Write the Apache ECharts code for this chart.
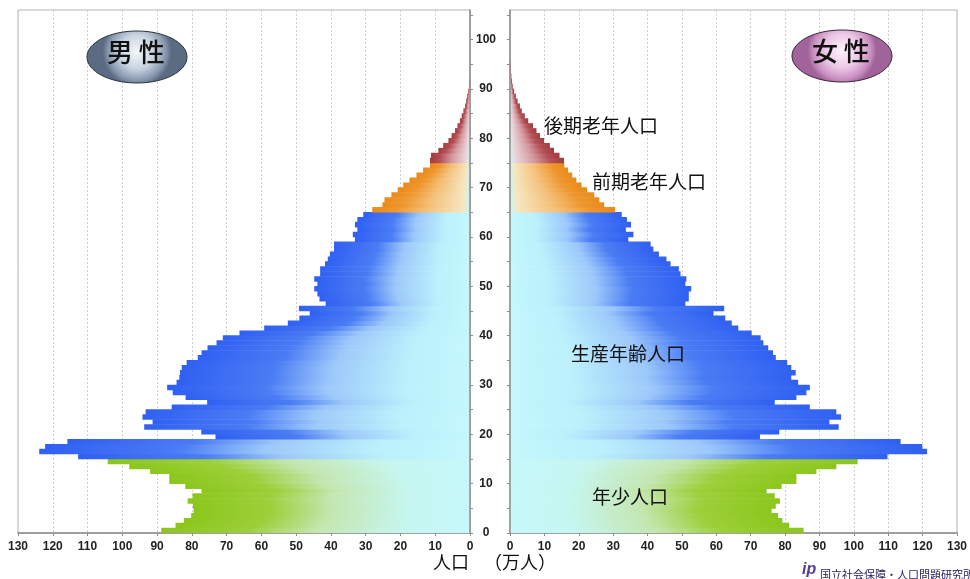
<!DOCTYPE html>
<html>
<head>
<meta charset="utf-8">
<script src="https://cdn.jsdelivr.net/npm/echarts@6/dist/echarts.min.js"></script>
<style>
  html, body { margin: 0; padding: 0; background: #ffffff; }
  #chart { width: 970px; height: 579px; }
</style>
</head>
<body>
<div id="chart"></div>
<script>
// Ages 0..105 (category axis)
const ages = [];
for (let a = 0; a <= 105; a++) ages.push(String(a));

// Population by single year of age, 10,000 persons (万人)
const male = [
  88.8, 84.7, 82.3, 80.2, 79.5, 79.7, 81.2, 79.8, 77.2, 81.9,
  86.5, 86.5, 92.0, 98.0, 104.2, 112.7, 123.9, 122.2, 115.8, 73.2,
  77.3, 93.7, 91.3, 94.2, 93.3, 85.8, 75.6, 81.8, 85.5, 87.1,
  84.4, 83.6, 83.4, 82.9, 81.5, 78.3, 77.2, 75.5, 72.9, 71.1,
  66.3, 59.2, 52.4, 49.1, 46.1, 49.2, 41.5, 43.3, 43.9, 44.8,
  43.9, 44.8, 43.1, 43.1, 41.7, 40.9, 40.3, 39.1, 39.1, 33.1,
  33.7, 32.4, 33.1, 32.4, 30.7, 28.1, 25.2, 24.6, 22.6, 20.8,
  19.2, 17.4, 15.4, 13.5, 11.5, 11.5, 11.2, 9.1, 7.7, 6.2,
  5.3, 4.3, 3.6, 2.9, 2.4, 1.9, 1.4, 1.1, 0.8, 0.5,
  0.3, 0.15, 0, 0, 0, 0, 0, 0, 0, 0,
  0, 0, 0, 0, 0, 0
];
const female = [
  85.4, 81.2, 79.2, 78.0, 76.1, 77.3, 78.5, 77.0, 74.6, 79.0,
  83.3, 83.3, 89.1, 94.9, 101.1, 109.8, 121.3, 119.9, 113.6, 72.7,
  78.3, 95.6, 92.9, 96.3, 94.9, 87.2, 77.0, 83.3, 86.2, 87.2,
  83.8, 81.8, 83.1, 81.8, 80.6, 77.3, 76.5, 75.1, 73.7, 72.9,
  70.3, 66.4, 64.5, 62.6, 59.2, 62.3, 51.0, 52.0, 52.0, 52.7,
  51.0, 51.3, 49.6, 49.1, 46.7, 45.5, 43.3, 41.7, 40.9, 34.4,
  35.9, 33.7, 35.2, 34.0, 32.5, 30.6, 27.4, 26.0, 24.5, 22.4,
  20.8, 19.3, 18.1, 16.9, 15.8, 15.7, 14.4, 12.8, 11.6, 9.9,
  8.7, 7.7, 6.7, 5.3, 4.3, 3.4, 2.9, 2.2, 1.7, 1.2,
  0.8, 0.6, 0.4, 0.3, 0.2, 0.1, 0, 0, 0, 0,
  0, 0, 0, 0, 0, 0
];

// Age groups [name, firstAge, lastAge]
const groups = [
  ['年少人口', 0, 14],
  ['生産年齢人口', 15, 64],
  ['前期老年人口', 65, 74],
  ['後期老年人口', 75, 105]
];
const ageTickValues = [0,5,10,15,20,25,30,35,40,45,50,55,60,65,70,75,80,85,90,95,100,105];
const ageLabelValues = [0,10,20,30,40,50,60,70,80,90,100];

// Gradient stops from the axis (0) to the bar's outer end (1)
const palette = {
  '年少人口':   [[0,'#c6f8fc'],[0.22,'#c6f6f0'],[0.5,'#c4e6b0'],[0.72,'#9cd03a'],[1,'#8cc61c']],
  '生産年齢人口': [[0,'#c4f8fc'],[0.22,'#bcf0fc'],[0.48,'#9cc8fa'],[0.68,'#4a7cf4'],[1,'#3060f2']],
  '前期老年人口': [[0,'#c8f6f4'],[0.08,'#f6e6c0'],[0.45,'#f4c078'],[0.75,'#ee9830'],[1,'#ea8a1a']],
  '後期老年人口': [[0,'#c8f6f8'],[0.1,'#ead6da'],[0.45,'#d49aa0'],[0.75,'#b45056'],[1,'#a43a3e']]
};

function gradient(stops, outerIsLeft) {
  const cs = stops.map(s => ({ offset: outerIsLeft ? 1 - s[0] : s[0], color: s[1] }));
  cs.sort((a, b) => a.offset - b.offset);
  return new echarts.graphic.LinearGradient(0, 0, 1, 0, cs);
}
function segment(values, lo, hi) {
  return values.map((v, i) => (i >= lo && i <= hi && v > 0) ? v : '-');
}

const labelFont = 'Liberation Sans, Arial, sans-serif';
const cjkFont = '"Noto Sans CJK JP", "Noto Sans CJK SC", sans-serif';

const series = [];
groups.forEach(g => {
  series.push({
    name: '男性' + g[0], type: 'bar', xAxisIndex: 0, yAxisIndex: 0, stack: 'male',
    barWidth: '112%', silent: true,
    itemStyle: { color: gradient(palette[g[0]], true) },
    data: segment(male, g[1], g[2])
  });
  series.push({
    name: '女性' + g[0], type: 'bar', xAxisIndex: 1, yAxisIndex: 2, stack: 'female',
    barWidth: '112%', silent: true,
    itemStyle: { color: gradient(palette[g[0]], false) },
    data: segment(female, g[1], g[2])
  });
});

const axisLineStyle = { color: '#8c8c8c', width: 1.5 };
const splitStyle = { color: '#cfcfcf', width: 1, type: [2, 2] };

const xAxisCommon = {
  type: 'value', min: 0, max: 130, interval: 10,
  axisLine: { show: true, lineStyle: axisLineStyle },
  axisTick: { show: true, length: 3, lineStyle: { color: '#8c8c8c' } },
  axisLabel: { color: '#222', fontSize: 12, fontWeight: 'bold', fontFamily: labelFont, margin: 8 },
  splitLine: { show: true, lineStyle: splitStyle }
};

const option = {
  animation: false,
  backgroundColor: '#ffffff',
  grid: [
    { left: 18, right: 500, top: 10, bottom: 46, show: true, borderColor: '#b4b4b4', borderWidth: 1, backgroundColor: '#fff' },
    { left: 510, right: 10, top: 10, bottom: 46, show: true, borderColor: '#b4b4b4', borderWidth: 1, backgroundColor: '#fff' }
  ],
  xAxis: [
    Object.assign({}, xAxisCommon, { gridIndex: 0, inverse: true }),
    Object.assign({}, xAxisCommon, { gridIndex: 1 })
  ],
  yAxis: [
    { type: 'category', gridIndex: 0, data: ages, show: false, boundaryGap: true },
    { type: 'value', gridIndex: 0, position: 'right', min: 0, max: 106, z: 5,
      axisLine: { show: true, lineStyle: axisLineStyle },
      axisTick: { show: true, length: 3, customValues: ageTickValues, lineStyle: { color: '#8c8c8c' } },
      axisLabel: { show: false },
      splitLine: { show: false } },
    { type: 'category', gridIndex: 1, data: ages, show: false, boundaryGap: true },
    { type: 'value', gridIndex: 1, position: 'left', min: 0, max: 106, z: 5,
      axisLine: { show: true, lineStyle: axisLineStyle },
      axisTick: { show: true, length: 3, customValues: ageTickValues, lineStyle: { color: '#8c8c8c' } },
      axisLabel: { show: true, customValues: ageLabelValues, align: 'center', margin: 24,
        color: '#222', fontSize: 12, fontWeight: 'bold', fontFamily: labelFont },
      splitLine: { show: false } }
  ],
  series: series,
  graphic: [
    { type: 'ellipse', shape: { cx: 137, cy: 57, rx: 50, ry: 26 }, z: 100,
      style: { stroke: '#2a3240', lineWidth: 1,
        fill: { type: 'radial', x: 0.5, y: 0.4, r: 0.65, colorStops: [
          { offset: 0, color: '#f4f7fb' }, { offset: 0.5, color: '#c8d3e0' }, { offset: 0.85, color: '#8494aa' }, { offset: 1, color: '#5a6b82' } ] } } },
    { type: 'text', left: 137 - 30, top: 57 - 18, z: 101,
      style: { text: '男 性', font: '500 26px ' + cjkFont, fill: '#111' } },
    { type: 'ellipse', shape: { cx: 842, cy: 56, rx: 50, ry: 26 }, z: 100,
      style: { stroke: '#3a2438', lineWidth: 1,
        fill: { type: 'radial', x: 0.5, y: 0.4, r: 0.65, colorStops: [
          { offset: 0, color: '#fdf3fb' }, { offset: 0.5, color: '#ecc8e6' }, { offset: 0.85, color: '#c68cbe' }, { offset: 1, color: '#a0649a' } ] } } },
    { type: 'text', left: 842 - 30, top: 56 - 18, z: 101,
      style: { text: '女 性', font: '500 26px ' + cjkFont, fill: '#111' } },
    { type: 'text', left: 544, top: 116, z: 101,
      style: { text: '後期老年人口', font: '19px ' + cjkFont, fill: '#111' } },
    { type: 'text', left: 592, top: 172, z: 101,
      style: { text: '前期老年人口', font: '19px ' + cjkFont, fill: '#111' } },
    { type: 'text', left: 571, top: 344, z: 101,
      style: { text: '生産年齢人口', font: '19px ' + cjkFont, fill: '#111' } },
    { type: 'text', left: 592, top: 487, z: 101,
      style: { text: '年少人口', font: '19px ' + cjkFont, fill: '#111' } },
    { type: 'text', left: 433, top: 553, z: 101,
      style: { text: '人口', font: '18px ' + cjkFont, fill: '#111' } },
    { type: 'text', left: 484, top: 553, z: 101,
      style: { text: '（万人）', font: '18px ' + cjkFont, fill: '#111' } },
    { type: 'text', left: 820, top: 569, z: 101,
      style: { text: '国立社会保障・人口問題研究所', font: '11px ' + cjkFont, fill: '#2c2060' } },
    { type: 'text', left: 802, top: 562, z: 101,
      style: { text: 'ip', font: 'italic bold 16px ' + labelFont, fill: '#5a3a9a' } }
  ]
};

const chart = echarts.init(document.getElementById('chart'), null, { renderer: 'canvas' });
chart.setOption(option);
</script>
</body>
</html>
